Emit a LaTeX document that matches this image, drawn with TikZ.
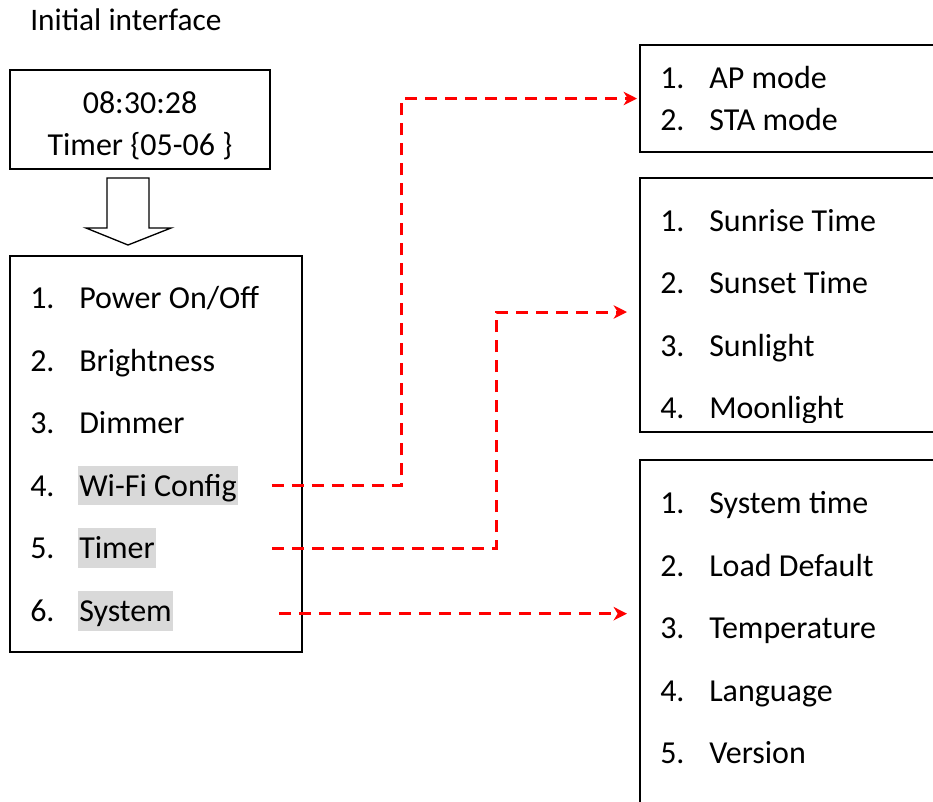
\documentclass[tikz,border=0pt]{standalone}
\usepackage{fontspec}
\setmainfont{Carlito}
\usetikzlibrary{arrows.meta,fit,calc}

\definecolor{hlgray}{RGB}{217,217,217}
\newcommand{\menufont}{\fontsize{24pt}{29pt}\selectfont}
\newcommand{\headfont}{\fontsize{23.5pt}{28pt}\selectfont}

\tikzset{
  box/.style={draw, line width=1.5pt, inner sep=0pt},
  num/.style={anchor=base west, inner sep=0pt},
  entry/.style={anchor=base west, inner sep=0pt},
  hl/.style={entry, fill=hlgray, inner xsep=0.75pt, text height=23pt, text depth=6.75pt},
  link/.style={red, line width=2.25pt, dash pattern=on 9pt off 6pt,
    -{Stealth[length=10pt,width=10pt,inset=3pt]}},
}

\begin{document}
\begin{tikzpicture}[x=0.75pt, y=-0.75pt, font=\menufont]
\useasboundingbox (0,0) rectangle (933,801);
\clip (0,0) rectangle (933,801);

% Title
\node[anchor=base west, inner sep=0pt, font=\headfont] (title) at (30,30.5) {Initial interface};

% Clock screen
\node[box, fit={(10,70) (270,169)}] (clock) {};
\node[anchor=base, inner sep=0pt] (clocktime) at (140,113.5) {08:30:28};
\node[anchor=base, inner sep=0pt] (clocktimer) at (140,155.5) {Timer \{05-06 \}};

% Block arrow down
\draw[line width=1pt] (107,178) -- (149,178) -- (149,228) -- (171,228) -- (128,245) -- (86,228) -- (107,228) -- cycle;

% Main menu
\node[box, fit={(10,256) (302,652)}] (menu) {};
\node[num] (m1) at (30,308.5) {1.};
\node[entry] (power) at (79,308.5) {Power On/Off};
\node[num] (m2) at (30,371.1) {2.};
\node[entry] (bright) at (79,371.1) {Brightness};
\node[num] (m3) at (30,433.7) {3.};
\node[entry] (dimmer) at (79,433.7) {Dimmer};
\node[num] (m4) at (30,496.3) {4.};
\node[hl] (wifi) at (78,496.3) {Wi-Fi Config};
\node[num] (m5) at (30,558.9) {5.};
\node[hl] (timer) at (78,558.9) {Timer};
\node[num] (m6) at (30,621.5) {6.};
\node[hl] (system) at (78,621.5) {System};

% Wi-Fi submenu
\node[box, fit={(640,45) (950,152)}] (wifimenu) {};
\node[num] (w1) at (660,88.5) {1.};
\node[entry] (apmode) at (709,88.5) {AP mode};
\node[num] (w2) at (660,130.5) {2.};
\node[entry] (stamode) at (709,130.5) {STA mode};

% Timer submenu
\node[box, fit={(640,178) (950,432)}] (timermenu) {};
\begin{scope}
\clip (640,178) rectangle (950,422);
\node[num] (t1) at (660,231.5) {1.};
\node[entry] (sunrise) at (709,231.5) {Sunrise Time};
\node[num] (t2) at (660,293.8) {2.};
\node[entry] (sunset) at (709,293.8) {Sunset Time};
\node[num] (t3) at (660,356.1) {3.};
\node[entry] (sunlight) at (709,356.1) {Sunlight};
\node[num] (t4) at (660,418.4) {4.};
\node[entry] (moonlight) at (709,418.4) {Moonlight};
\end{scope}

% System submenu
\node[box, fit={(640,460) (950,830)}] (sysmenu) {};
\node[num] (s1) at (660,513.5) {1.};
\node[entry] (systime) at (709,513.5) {System time};
\node[num] (s2) at (660,576) {2.};
\node[entry] (loaddef) at (709,576) {Load Default};
\node[num] (s3) at (660,638.5) {3.};
\node[entry] (temp) at (709,638.5) {Temperature};
\node[num] (s4) at (660,701) {4.};
\node[entry] (lang) at (709,701) {Language};
\node[num] (s5) at (660,763.5) {5.};
\node[entry] (version) at (709,763.5) {Version};

% Links to submenus
\draw[link] ([xshift=25.5pt]wifi.east) -- ++(130,0) |- ([xshift=-1.5pt]wifimenu.west);
\draw[link] ([xshift=87pt]timer.east) -- ++(224,0) |- ([shift={(-9pt,-5.25pt)}]timermenu.west);
\draw[link] ([shift={(79.5pt,-2.25pt)}]system.east) -- ($(sysmenu.west |- system.east)+(-12,3)$);
\end{tikzpicture}
\end{document}
